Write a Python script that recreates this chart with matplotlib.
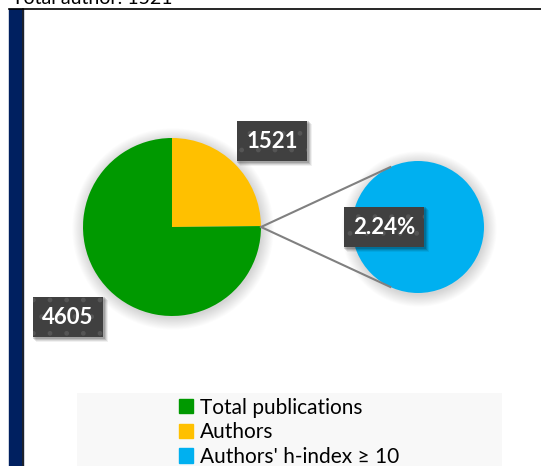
import numpy as np
import matplotlib
matplotlib.use("Agg")
import matplotlib.pyplot as plt
from matplotlib.patches import Rectangle, Circle, Patch

# data
categories = ["Total publications", "Authors", "Authors' h-index \u2265 10"]
pub_total = 4605
authors = 1521
hindex_pct = 2.24
title_text = "Total author: 1521"

colors = {"Total publications": "#009900", "Authors": "#FFC000",
          "Authors' h-index \u2265 10": "#00B0F0"}

W, H = 541, 466
fig = plt.figure(figsize=(W / 100, H / 100), dpi=100)
ax = fig.add_axes([0, 0, 1, 1])
ax.set_xlim(0, W)
ax.set_ylim(0, H)
font = "Lato"

def Y(y):  # pixel row (from top) -> data y
    return H - y

# frame: navy strip on the left, thin black border on top
ax.add_patch(Rectangle((9, 0), 14, Y(9), color="#002060", zorder=1))
ax.plot([23, 23], [0, Y(9)], color="#222222", lw=1.2, zorder=2)
ax.plot([9, W], [Y(8.5), Y(8.5)], color="black", lw=1.2, zorder=2)

# title, mostly cut off at the top like in the reference
ax.text(12, Y(4), title_text, fontsize=14, family=font, va="baseline",
        ha="left", color="black")

# main pie
c1 = (172, Y(227))
r1 = 89
c2 = (418, Y(227))
r2 = 66

# soft shadow under both pies
for k in range(14):
    for c, r in ((c1, r1), (c2, r2)):
        ax.add_patch(Circle((c[0] + 1, c[1] - 2), r + k * 0.9,
                            color="black", alpha=0.01, lw=0, zorder=2))

ax.pie([authors, pub_total], colors=[colors["Authors"], colors["Total publications"]],
       startangle=90, counterclock=False, center=c1, radius=r1, frame=True,
       wedgeprops=dict(linewidth=0, zorder=3))
ax.pie([hindex_pct], colors=[colors["Authors' h-index \u2265 10"]],
       center=c2, radius=r2, frame=True, wedgeprops=dict(linewidth=0, zorder=3))

# connector lines: from the split point of the main pie tangent to the second pie
p = np.array([c1[0] + r1, c1[1]])
d = c2[0] - p[0]
th = np.arccos(r2 / d)
for s in (1, -1):
    tp = (c2[0] - r2 * np.cos(th), c2[1] + s * r2 * np.sin(th))
    ax.plot([p[0], tp[0]], [p[1], tp[1]], color="#808080", lw=1.5, zorder=4)

# value labels in dark boxes
labels = []
def label(x, y, s):
    t = ax.text(x, Y(y), s, fontsize=16, family=font, weight="bold",
                color="white", ha="center", va="center", zorder=6,
                bbox=dict(boxstyle="square,pad=0.42", fc="#404040",
                          ec="#555555", lw=0, hatch="."))
    labels.append(t)

label(272, 141, f"{authors}")
label(68, 317, f"{pub_total}")
label(384, 227, f"{hindex_pct:.2f}%")

# legend
ax.add_patch(Rectangle((77, 0), 425, Y(393), color="#F8F8F8", lw=0, zorder=1))
handles = [Patch(color=colors[c]) for c in categories]
ax.legend(handles, categories, loc="upper left", bbox_to_anchor=(164, Y(383)),
          bbox_transform=ax.transData, frameon=False,
          prop=dict(family=font, size=15), handlelength=0.68, handleheight=0.68,
          handletextpad=0.35, labelspacing=0.22, borderpad=0.2)

ax.set_aspect("equal")
ax.axis("off")

# soft shadows behind the label boxes, sized from the drawn boxes
fig.canvas.draw()
inv = ax.transData.inverted()
for t in labels:
    bb = t.get_bbox_patch().get_window_extent().transformed(inv)
    for k, a in ((4, 0.06), (3, 0.09), (2, 0.12), (1, 0.15)):
        ax.add_patch(Rectangle((bb.x0 + k - 1, bb.y0 - k - 1), bb.width + 2,
                               bb.height + 2, fc="black", alpha=a, lw=0, zorder=5))

fig.savefig("out.png", dpi=100)
